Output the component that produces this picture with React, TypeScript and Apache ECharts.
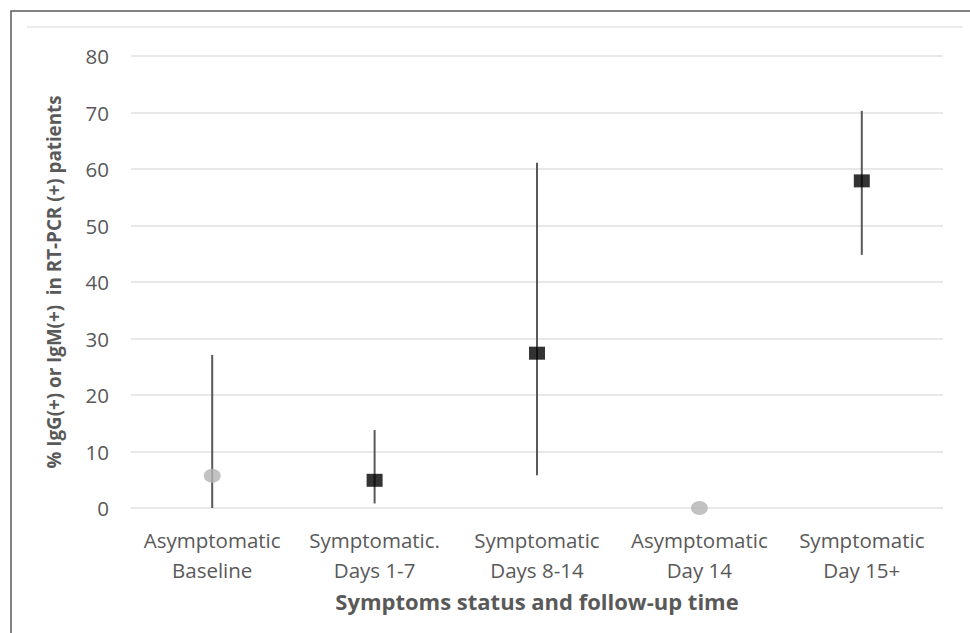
import React, { useEffect, useRef } from "react";
import * as echarts from "echarts";

const categories = [
  "Asymptomatic\nBaseline",
  "Symptomatic.\nDays 1-7",
  "Symptomatic\nDays 8-14",
  "Asymptomatic\nDay 14",
  "Symptomatic\nDay 15+",
];
const pointValues = [5.7, 4.9, 27.4, 0, 57.9];
const lowerValues = [0, 0.8, 5.8, 0, 44.8];
const upperValues = [27.1, 13.8, 61.1, 0, 70.3];
const symptomatic = [false, true, true, false, true];
const yTicks = { min: 0, max: 80, interval: 10 };

const FONT = "'Open Sans', 'Noto Sans', sans-serif";

export default function App() {
  const ref = useRef<HTMLDivElement>(null);
  useEffect(() => {
    if (!ref.current) return;
    const chart = echarts.init(ref.current, undefined, { renderer: "svg" });
    const asymData = pointValues.map((v, i) => (symptomatic[i] ? "-" : v));
    const symData = pointValues.map((v, i) => (symptomatic[i] ? v : "-"));
    const errData = categories.map((_, i) => [i, lowerValues[i], upperValues[i]]);
    chart.setOption({
      animation: false,
      backgroundColor: "#ffffff",
      textStyle: { fontFamily: FONT },
      grid: { left: 131, right: 27, top: 56, bottom: 125, containLabel: false },
      graphic: [
        {
          type: "rect",
          shape: { x: 11, y: 11, width: 1000, height: 700 },
          style: { fill: "none", stroke: "#595959", lineWidth: 1.5 },
          silent: true,
        },
        {
          type: "line",
          shape: { x1: 27, y1: 27, x2: 963, y2: 27 },
          style: { stroke: "#e6e6e6", lineWidth: 1.5 },
          silent: true,
        },
      ],
      xAxis: {
        type: "category",
        data: categories,
        boundaryGap: true,
        axisLine: { show: false },
        axisTick: { show: false },
        axisLabel: {
          color: "#595959",
          fontSize: 20.5,
          fontFamily: FONT,
          lineHeight: 30,
          margin: 17,
          interval: 0,
        },
        name: "Symptoms status and follow-up time",
        nameLocation: "middle",
        nameGap: 80,
        nameTextStyle: { color: "#595959", fontSize: 22, fontWeight: "bold", fontFamily: FONT },
      },
      yAxis: {
        type: "value",
        min: yTicks.min,
        max: yTicks.max,
        interval: yTicks.interval,
        axisLine: { show: false },
        axisTick: { show: false },
        splitLine: { lineStyle: { color: "#e0e0e0", width: 1.5 } },
        axisLabel: { color: "#595959", fontSize: 20.5, fontFamily: FONT, margin: 22 },
        name: "% IgG(+) or IgM(+)  in RT-PCR (+) patients",
        nameLocation: "middle",
        nameGap: 68,
        nameTextStyle: { color: "#595959", fontSize: 18.8, fontWeight: "bold", fontFamily: FONT },
      },
      series: [
        {
          type: "custom",
          data: errData,
          z: 1,
          renderItem: (params: any, api: any) => {
            const x = api.value(0);
            const lo = api.coord([x, api.value(1)]);
            const hi = api.coord([x, api.value(2)]);
            if (Math.abs(lo[1] - hi[1]) < 0.5) return null;
            return {
              type: "line",
              shape: { x1: lo[0], y1: lo[1], x2: hi[0], y2: hi[1] },
              style: { stroke: "#595959", lineWidth: 2 },
            };
          },
          encode: { x: 0, y: [1, 2] },
        },
        {
          type: "scatter",
          data: asymData,
          symbol: "circle",
          symbolSize: [17, 14],
          itemStyle: { color: "#b3b3b3" },
          z: 3,
        },
        {
          type: "scatter",
          data: symData,
          symbol: "rect",
          symbolSize: [16, 13],
          itemStyle: { color: "#000000" },
          z: 3,
        },
      ],
    });
    return () => chart.dispose();
  }, []);
  return (
    <div
      ref={ref}
      style={{ position: "fixed", left: 0, top: 0, width: 970, height: 633, background: "#fff" }}
    />
  );
}
